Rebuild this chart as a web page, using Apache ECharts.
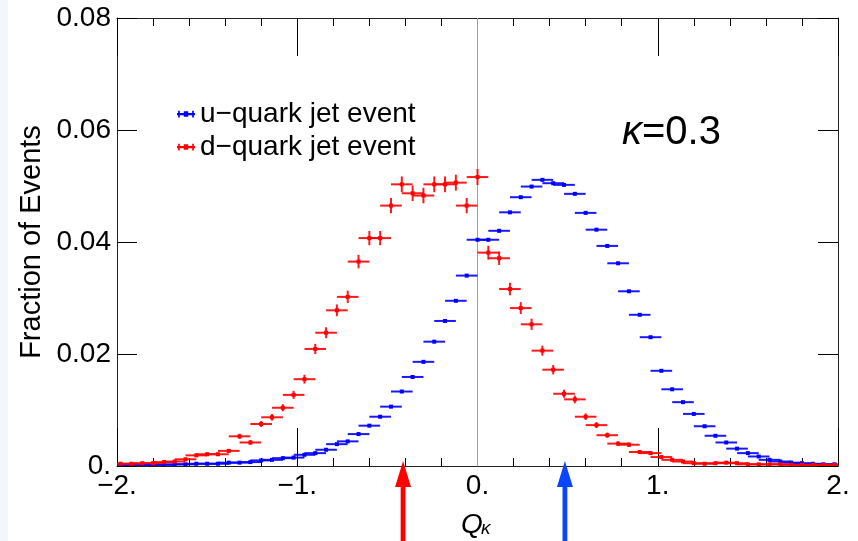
<!DOCTYPE html>
<html><head><meta charset="utf-8">
<script src="https://cdn.jsdelivr.net/npm/echarts@6.0.0/dist/echarts.min.js"></script>
<style>html,body{margin:0;padding:0;background:#fff}#c{width:858px;height:541px}</style>
</head><body><div id="c"></div>
<script>
// ---- data ----
const binCenters = [-1.98,-1.92,-1.86,-1.80,-1.74,-1.68,-1.62,-1.56,-1.50,-1.44,-1.38,-1.32,-1.26,-1.20,-1.14,-1.08,-1.02,
  -0.96,-0.90,-0.84,-0.78,-0.72,-0.66,-0.60,-0.54,-0.48,-0.42,-0.36,-0.30,-0.24,-0.18,-0.12,-0.06,0.00,
  0.06,0.12,0.18,0.24,0.30,0.36,0.42,0.48,0.54,0.60,0.66,0.72,0.78,0.84,0.90,0.96,1.02,
  1.08,1.14,1.20,1.26,1.32,1.38,1.44,1.50,1.56,1.62,1.68,1.74,1.80,1.86,1.92,1.98];
const binHalfWidth = 0.06;
const uQuark = [0.0002,0.0002,0.0002,0.0002,0.0002,0.0003,0.0003,0.0004,0.0004,0.0004,0.0006,0.0006,0.0007,0.0010,0.0011,0.0014,0.0015,
  0.0020,0.0023,0.0029,0.0039,0.0044,0.0057,0.0072,0.0088,0.0106,0.0133,0.0159,0.0186,0.0222,0.0259,0.0295,0.0340,0.0404,
  0.0404,0.0420,0.0453,0.0480,0.0499,0.0511,0.0505,0.0502,0.0486,0.0452,0.0422,0.0393,0.0362,0.0312,0.0270,0.0230,0.0170,
  0.0137,0.0114,0.0093,0.0071,0.0054,0.0042,0.0031,0.0023,0.0017,0.0011,0.0008,0.0006,0.0005,0.0004,0.0003,0.0003];
const uQuarkErr = [0.00002,0.00002,0.00002,0.00002,0.00002,0.00002,0.00002,0.00002,0.00002,0.00002,0.00002,0.00002,0.00002,0.00002,0.00002,0.00002,0.00002,
  0.00005,0.00005,0.00005,0.00005,0.00005,0.00005,0.00005,0.00005,0.0001,0.0001,0.0001,0.0001,0.0001,0.0001,0.0001,0.00015,0.00015,
  0.00015,0.00015,0.00015,0.00015,0.00015,0.00015,0.00015,0.00015,0.00015,0.00015,0.00015,0.00015,0.00015,0.00015,0.0001,0.0001,0.0001,
  0.0001,0.0001,0.00005,0.00005,0.00005,0.00005,0.00005,0.00005,0.00002,0.00002,0.00002,0.00002,0.00002,0.00002,0.00002,0.00002];
const dQuark = [0.0004,0.0004,0.0005,0.0005,0.0007,0.0008,0.0012,0.0019,0.0021,0.0021,0.0027,0.0053,0.0042,0.0075,0.0087,0.0104,0.0127,
  0.0155,0.0209,0.0238,0.0278,0.0302,0.0365,0.0407,0.0407,0.0465,0.0503,0.0487,0.0483,0.0503,0.0503,0.0506,0.0465,0.0516,
  0.0381,0.0371,0.0316,0.0282,0.0253,0.0206,0.0172,0.0129,0.0119,0.0088,0.0073,0.0055,0.0040,0.0038,0.0025,0.0023,0.0016,
  0.0011,0.0008,0.0005,0.0004,0.0005,0.0006,0.0005,0.0003,0.0003,0.0003,0.0003,0.0002,0.0002,0.0002,0.0002,0.0002];
const dQuarkErr = [0.00013,0.00013,0.00014,0.00014,0.00015,0.00018,0.00022,0.00027,0.00029,0.00029,0.00033,0.00046,0.00041,0.00055,0.00059,0.00064,0.00071,
  0.00078,0.00091,0.00097,0.00105,0.0011,0.0012,0.00127,0.00127,0.00136,0.00141,0.00139,0.00138,0.00141,0.00141,0.00142,0.00136,0.00143,
  0.00123,0.00121,0.00112,0.00106,0.001,0.0009,0.00083,0.00072,0.00069,0.00059,0.00054,0.00047,0.0004,0.00039,0.00032,0.0003,0.00025,
  0.00021,0.00018,0.00014,0.00013,0.00014,0.00015,0.00014,0.00011,0.00011,0.00011,0.00011,0.00009,0.00009,0.00009,0.00009,0.00009];
const seriesNames = ['u\u2212quark jet event', 'd\u2212quark jet event'];
const xRange = [-2, 2];
const yRange = [0, 0.08];
const meanU = 0.485;   // blue arrow
const meanD = -0.413;  // red arrow
const kappaText = '0.3';

// ---- chart ----
const FONT = '"Liberation Sans", Arial, Helvetica, sans-serif';
const RED = '#ff0000', BLUE = '#0000ff';
function fmtX(v){ if (v === 0) return '0.'; return (v < 0 ? '\u2212' : '') + Math.abs(v) + '.'; }
function fmtY(v){ if (v === 0) return '0.'; return v.toFixed(2); }

function makeRender(color){
  return function(params, api){
    const x = api.value(0), y = api.value(1), e = api.value(2);
    const pL = api.coord([x - binHalfWidth, y]);
    const pR = api.coord([x + binHalfWidth, y]);
    const pC = api.coord([x, y]);
    const pT = api.coord([x, y + e]);
    const pB = api.coord([x, y - e]);
    const st = {stroke: color, lineWidth: 2, opacity: 0.9};
    return {type: 'group', children: [
      {type: 'line', shape: {x1: pL[0], y1: pC[1], x2: pR[0], y2: pC[1]}, style: st},
      {type: 'line', shape: {x1: pC[0], y1: pT[1], x2: pC[0], y2: pB[1]}, style: st},
      {type: 'rect', shape: {x: pC[0] - 2, y: pC[1] - 2, width: 4, height: 4}, style: {fill: color}}
    ]};
  };
}

const legendIcon = 'path://M0,3H16V5H0Z M1,1H2.5V7H1Z M13.5,1H15V7H13.5Z M6,1.5H10V6.5H6Z';

function xAxisDef(pos, showLabel){
  return {
    type: 'value', position: pos, min: xRange[0], max: xRange[1], interval: 1,
    axisLine: {show: true, onZero: false, lineStyle: {color: '#222', width: 1}},
    axisTick: {show: true, inside: true, length: 38, lineStyle: {color: '#000', width: 1}},
    minorTick: {show: true, splitNumber: 5, length: 8, lineStyle: {color: '#000', width: 1}},
    splitLine: {show: false}, minorSplitLine: {show: false},
    axisLabel: {show: showLabel, formatter: fmtX, fontSize: 28, color: '#000', fontFamily: FONT, margin: 6}
  };
}
function yAxisDef(pos, showLabel){
  return {
    type: 'value', position: pos, min: yRange[0], max: yRange[1], interval: 0.02,
    axisLine: {show: true, onZero: false, lineStyle: {color: '#222', width: 1}},
    axisTick: {show: true, inside: true, length: 20, lineStyle: {color: '#000', width: 1}},
    splitLine: {show: false},
    axisLabel: {show: showLabel, formatter: fmtY, fontSize: 28, color: '#000', fontFamily: FONT, margin: 6}
  };
}

const chart = echarts.init(document.getElementById('c'), null, {renderer: 'canvas'});
chart.setOption({
  animation: false,
  backgroundColor: '#ffffff',
  grid: {left: 117, right: 20, top: 18, bottom: 75, containLabel: false, outerBoundsMode: 'none'},
  xAxis: [xAxisDef('bottom', true), xAxisDef('top', false)],
  yAxis: [yAxisDef('left', true), yAxisDef('right', false)],
  legend: {
    orient: 'vertical', left: 172, top: 95, itemWidth: 18, itemHeight: 8, itemGap: 5,
    selectedMode: false,
    textStyle: {fontSize: 28, fontFamily: FONT, color: '#000', lineHeight: 28},
    data: [{name: seriesNames[0], icon: legendIcon}, {name: seriesNames[1], icon: legendIcon}]
  },
  series: [
    {type: 'line', silent: true, symbol: 'none', data: [[0, yRange[0]], [0, yRange[1]]],
     lineStyle: {color: '#a0a0a0', width: 1}, z: 1},
    {type: 'custom', name: seriesNames[0], clip: true, itemStyle: {color: BLUE},
     renderItem: makeRender(BLUE), encode: {x: 0, y: 1},
     data: binCenters.map((x, i) => [x, uQuark[i], uQuarkErr[i]]), z: 3},
    {type: 'custom', name: seriesNames[1], clip: true, itemStyle: {color: RED},
     renderItem: makeRender(RED), encode: {x: 0, y: 1},
     data: binCenters.map((x, i) => [x, dQuark[i], dQuarkErr[i]]), z: 4}
  ]
});

function arrow(xv, color){
  const px = chart.convertToPixel({xAxisIndex: 0}, xv);
  const tip = 461, base = 487, bottom = 545, hw = 8, sw = 2.4;
  return {type: 'polygon', z: 100,
    shape: {points: [[px, tip], [px + hw, base], [px + sw, base], [px + sw, bottom], [px - sw, bottom], [px - sw, base], [px - hw, base]]},
    style: {fill: color}};
}

chart.setOption({graphic: [
  {type: 'rect', z: -10, shape: {x: 0, y: 0, width: 8, height: 541}, style: {fill: '#f1f7fa'}},
  {type: 'text', z: 50, x: 32, y: 242, rotation: Math.PI / 2,
   style: {text: 'Fraction of Events', font: '29px ' + FONT, fill: '#000', align: 'center', verticalAlign: 'middle'}},
  {type: 'text', z: 50, x: 622, y: 133,
   style: {text: '{i|\u03ba}{n|=' + kappaText + '}', fill: '#000', verticalAlign: 'middle',
     rich: {i: {font: 'italic 40px ' + FONT, fill: '#000'}, n: {font: '40px ' + FONT, fill: '#000'}}}},
  {type: 'text', z: 50, x: 461, y: 525,
   style: {text: 'Q', font: 'italic 28px ' + FONT, fill: '#000', verticalAlign: 'middle'}},
  {type: 'text', z: 50, x: 481, y: 538,
   style: {text: '\u03ba', font: 'italic 19px ' + FONT, fill: '#000', verticalAlign: 'bottom'}},
  arrow(meanD, '#ff0000'),
  arrow(meanU, '#0a46ff')
]});
</script>
</body></html>
